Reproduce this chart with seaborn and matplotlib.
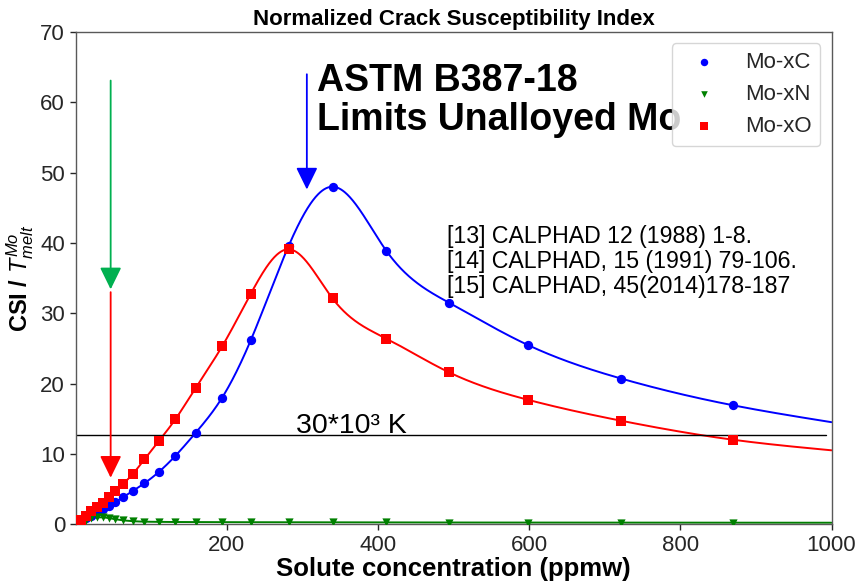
import numpy as np
import pandas as pd
import seaborn as sns
import matplotlib.pyplot as plt

# Solute concentration (ppmw) at which the CSI was evaluated
conc = [7, 14, 21, 29, 37, 44.6, 52.5, 62.5, 75.5, 91, 110, 132, 159, 194,
        232, 282, 340, 411, 494, 598, 722, 870]

# Normalized crack susceptibility index for each binary system
csi_c = [0.4, 0.8, 1.2, 1.7, 2.2, 2.6, 3.1, 3.8, 4.7, 5.8, 7.4, 9.7, 13.0,
         18.0, 26.2, 39.6, 48.0, 38.9, 31.5, 25.5, 20.7, 16.9]
csi_n = [0.35, 0.65, 0.85, 0.95, 0.95, 0.85, 0.7, 0.55, 0.42, 0.35, 0.32,
         0.3, 0.3, 0.28, 0.27, 0.26, 0.25, 0.24, 0.23, 0.22, 0.21, 0.2]
csi_o = [0.6, 1.2, 1.8, 2.4, 3.0, 3.8, 4.7, 5.7, 7.1, 9.2, 11.8, 14.9, 19.4,
         25.3, 32.8, 39.1, 32.1, 26.4, 21.6, 17.7, 14.7, 12.0]

# Curve values at the right edge of the plot
x_end = 1000
end_c, end_n, end_o = 14.5, 0.2, 10.5

labels = ["Mo-xC", "Mo-xN", "Mo-xO"]
colors = ["#0000ff", "#008000", "#ff0000"]
markers = ["o", "v", "s"]
msizes = [45, 35, 55]

threshold = 12.7          # 30*10^3 K normalised by T_melt of Mo
ref_lines = ["[13] CALPHAD 12 (1988) 1-8.",
             "[14] CALPHAD, 15 (1991) 79-106.",
             "[15] CALPHAD, 45(2014)178-187"]


def cubic_spline(x, y, xs):
    """Natural cubic spline through (x, y), evaluated at xs."""
    x = np.asarray(x, float)
    y = np.asarray(y, float)
    n = len(x)
    h = np.diff(x)
    A = np.zeros((n, n))
    b = np.zeros(n)
    A[0, 0] = A[-1, -1] = 1.0
    for i in range(1, n - 1):
        A[i, i - 1] = h[i - 1]
        A[i, i] = 2 * (h[i - 1] + h[i])
        A[i, i + 1] = h[i]
        b[i] = 6 * ((y[i + 1] - y[i]) / h[i] - (y[i] - y[i - 1]) / h[i - 1])
    M = np.linalg.solve(A, b)
    idx = np.clip(np.searchsorted(x, xs) - 1, 0, n - 2)
    x0, x1 = x[idx], x[idx + 1]
    hh = h[idx]
    return (M[idx] * (x1 - xs) ** 3 / (6 * hh)
            + M[idx + 1] * (xs - x0) ** 3 / (6 * hh)
            + (y[idx] / hh - M[idx] * hh / 6) * (x1 - xs)
            + (y[idx + 1] / hh - M[idx + 1] * hh / 6) * (xs - x0))


sns.set_theme(style="ticks")
plt.rcParams["font.family"] = ["Liberation Sans", "DejaVu Sans"]
plt.rcParams["mathtext.fontset"] = "custom"
plt.rcParams["mathtext.it"] = "Liberation Sans:italic"
plt.rcParams["mathtext.rm"] = "Liberation Sans"
plt.rcParams["mathtext.bf"] = "Liberation Sans:bold"

fig = plt.figure(figsize=(8.59, 5.83), dpi=100)
ax = fig.add_axes([0.0879, 0.101, 0.8801, 0.844])

xs = np.linspace(0, x_end, 1500)
series = [(csi_c, end_c), (csi_n, end_n), (csi_o, end_o)]

curve_frames = []
point_frames = []
for lab, (vals, end) in zip(labels, series):
    kx = [0] + conc + [x_end]
    ky = [0] + vals + [end]
    curve_frames.append(pd.DataFrame({"conc": xs,
                                      "csi": cubic_spline(kx, ky, xs),
                                      "system": lab}))
    point_frames.append(pd.DataFrame({"conc": conc, "csi": vals,
                                      "system": lab}))
curves = pd.concat(curve_frames, ignore_index=True)
points = pd.concat(point_frames, ignore_index=True)

palette = dict(zip(labels, colors))
sns.lineplot(data=curves, x="conc", y="csi", hue="system", palette=palette,
             linewidth=1.4, legend=False, ax=ax, sort=False, estimator=None)

for lab, mk, ms in zip(labels, markers, msizes):
    sub = points[points["system"] == lab]
    sns.scatterplot(data=sub, x="conc", y="csi", color=palette[lab],
                    marker=mk, s=ms, linewidth=0, ax=ax, label=lab,
                    zorder=3)

# Threshold line and its label
ax.plot([0, 993], [threshold, threshold], color="black", lw=1.0, zorder=2)
ax.text(292, 13.0, "30*10³ K", fontsize=20.5, color="black",
        ha="left", va="baseline")

# Arrows marking the ASTM limits
def arrow(x, y0, y1, color):
    ax.annotate("", xy=(x, y1), xytext=(x, y0),
                arrowprops=dict(arrowstyle="-|>,head_length=0.45,head_width=0.22",
                                color=color, lw=1.3, shrinkA=0, shrinkB=0,
                                mutation_scale=30), zorder=4)

arrow(46.5, 63.1, 33.4, "#00b050")
arrow(46.5, 33.0, 6.6, "#ff0000")
arrow(306, 64.0, 47.6, "#0000ff")

ax.text(319, 65.6, "ASTM B387-18\nLimits Unalloyed Mo", fontsize=27,
        fontweight="bold", color="black", ha="left", va="top",
        linespacing=1.1, zorder=5)

ax.text(492, 42.6, "\n".join(ref_lines), fontsize=16.7, color="black",
        ha="left", va="top", linespacing=1.12)

ax.set_xlim(0, 1000)
ax.set_ylim(0, 70)
ax.set_xticks([200, 400, 600, 800, 1000])
ax.set_yticks(range(0, 71, 10))
ax.tick_params(labelsize=16, length=4, width=1, colors=".15")
for sp in ax.spines.values():
    sp.set_visible(True)
    sp.set_color(".35")
    sp.set_linewidth(1.0)

ax.set_xlabel("Solute concentration (ppmw)", fontsize=18.5, fontweight="bold",
              labelpad=1, color="black")
ax.set_ylabel("CSI / $T^{Mo}_{melt}$", fontsize=17, fontweight="bold",
              labelpad=3, color="black")
ax.set_title("Normalized Crack Susceptibility Index", fontsize=16,
             fontweight="bold", pad=5, color="black")

leg = ax.legend(loc="upper right", fontsize=16, handlelength=2.1,
                handletextpad=0.8, labelspacing=0.5, markerscale=0.8,
                frameon=True, fancybox=True, framealpha=0.8,
                edgecolor="#cccccc")

fig.savefig("out.png", dpi=100)
